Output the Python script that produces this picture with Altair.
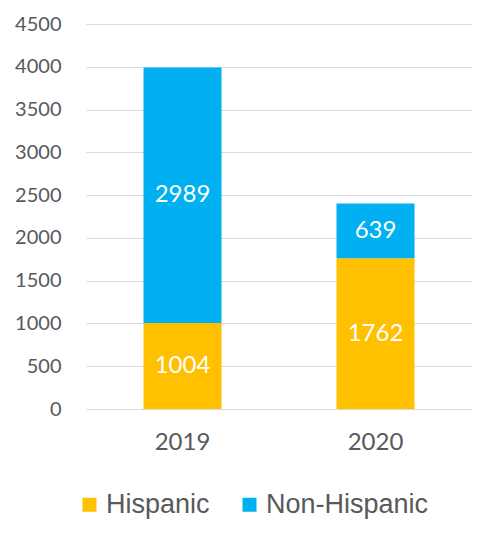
import altair as alt
import pandas as pd

years = ["2019", "2019", "2020", "2020"]
groups = ["Hispanic", "Non-Hispanic", "Hispanic", "Non-Hispanic"]
values = [1004, 2989, 1762, 639]
group_order = [0, 1, 0, 1]
y_ticks = [0, 500, 1000, 1500, 2000, 2500, 3000, 3500, 4000, 4500]

df = pd.DataFrame({"year": years, "group": groups, "value": values, "ord": group_order})

color = alt.Color(
    "group:N",
    scale=alt.Scale(domain=["Hispanic", "Non-Hispanic"], range=["#FFC000", "#00B0F0"]),
    legend=alt.Legend(
        title=None, orient="none", direction="horizontal", legendX=-10, legendY=467,
        symbolType="square", symbolSize=196, symbolStrokeWidth=0, symbolOpacity=1,
        labelFont="Liberation Sans", labelFontSize=27, labelColor="#595959",
        labelOffset=3, columnPadding=26, labelLimit=300,
    ),
)

x = alt.X(
    "year:N",
    scale=alt.Scale(paddingInner=0, paddingOuter=0),
    axis=alt.Axis(title=None, labelAngle=0, labelFont="Lato", labelFontSize=24,
                  labelColor="#595959", ticks=False, domainColor="#D9D9D9",
                  labelPadding=21),
)

bars = alt.Chart(df).mark_bar(size=78).encode(
    x=x,
    y=alt.Y("value:Q", stack="zero",
            scale=alt.Scale(domain=[0, 4500], nice=False),
            axis=alt.Axis(title=None, values=y_ticks, format="d", labelFont="Lato",
                          labelFontSize=20, labelColor="#595959", ticks=False, domain=False,
                          gridColor="#D9D9D9", gridWidth=1, labelPadding=25)),
    color=color,
    order=alt.Order("ord:Q", sort="ascending"),
)

labels = alt.Chart(df).transform_window(
    cum="sum(value)", groupby=["year"], sort=[alt.SortField("ord", order="ascending")]
).transform_calculate(
    mid="datum.cum - datum.value / 2"
).mark_text(color="white", font="Lato", fontSize=24, baseline="middle").encode(
    x=alt.X("year:N"),
    y=alt.Y("mid:Q"),
    text=alt.Text("value:Q"),
)

chart = (bars + labels).properties(
    width=386, height=385,
    autosize=alt.AutoSizeParams(type="none"),
    padding={"left": 78, "top": 16, "right": 17, "bottom": 120},
).configure_view(stroke=None)

chart.save("out.html", embed_options={"renderer": "svg", "actions": False})
